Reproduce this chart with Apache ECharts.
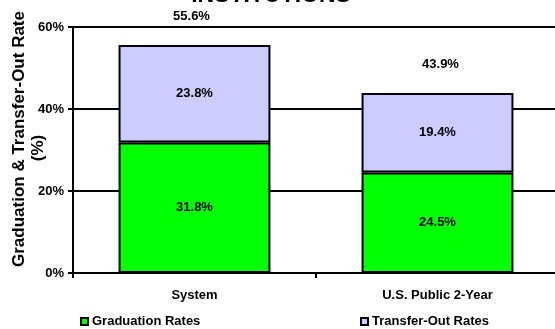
<!DOCTYPE html>
<html>
<head>
<meta charset="utf-8">
<script src="https://cdn.jsdelivr.net/npm/echarts@6/dist/echarts.min.js"></script>
<style>
  html, body { margin: 0; padding: 0; background: #fff; }
  #chart { width: 555px; height: 329px; }
</style>
</head>
<body>
<div id="chart"></div>
<script>
// data
const categories = ['System', 'U.S. Public 2-Year'];
const gradRates = [31.8, 24.5];
const transferRates = [23.8, 19.4];
const totals = [55.6, 43.9];
const yTicks = [0, 20, 40, 60];

const FONT = '"Liberation Sans", Arial, sans-serif';
const chart = echarts.init(document.getElementById('chart'));

// total labels float a bit above the bar tops, as in the original
const totalOffsets = [[-3, -29], [3, -29]];

const labelStyle = { color: '#000', fontWeight: 'bold', fontSize: 13, fontFamily: FONT };
const blackLine = { color: '#000', width: 2 };

const option = {
    animation: false,
    textStyle: { fontFamily: FONT },
    graphic: [
        {
            type: 'text',
            style: {
                text: 'INSTITUTIONS',
                x: 271, y: 7,
                align: 'center', verticalAlign: 'bottom',
                font: 'bold 23px ' + FONT,
                fill: '#000'
            }
        },
        // y axis title, two lines (Excel put them a little off-centre)
        {
            type: 'text',
            x: 19, y: 139, rotation: Math.PI / 2,
            style: {
                text: 'Graduation & Transfer-Out Rate',
                align: 'center', verticalAlign: 'middle',
                font: 'bold 17px ' + FONT, fill: '#000'
            }
        },
        {
            type: 'text',
            x: 38, y: 148, rotation: Math.PI / 2,
            style: {
                text: '(%)',
                align: 'center', verticalAlign: 'middle',
                font: 'bold 17px ' + FONT, fill: '#000'
            }
        }
    ],
    legend: [
        {
            left: 80, top: 315, padding: 0,
            data: ['Graduation Rates'],
            icon: 'rect', itemWidth: 7, itemHeight: 7, itemGap: 5,
            textStyle: Object.assign({}, labelStyle, { padding: [0, 0, 0, -1] })
        },
        {
            left: 360, top: 315, padding: 0,
            data: ['Transfer-Out Rates'],
            icon: 'rect', itemWidth: 7, itemHeight: 7, itemGap: 5,
            textStyle: Object.assign({}, labelStyle, { padding: [0, 0, 0, -1] })
        }
    ],
    grid: { left: 73, right: -4, top: 27, bottom: 56, outerBoundsMode: 'none', containLabel: false },
    xAxis: {
        type: 'category',
        data: categories,
        axisLine: { lineStyle: blackLine },
        axisTick: { show: true, length: 5, lineStyle: blackLine },
        axisLabel: Object.assign({}, labelStyle, { margin: 16 })
    },
    yAxis: {
        type: 'value',
        min: yTicks[0], max: yTicks[yTicks.length - 1], interval: 20,
        axisLine: { show: true, lineStyle: blackLine },
        axisTick: { show: true, length: 5, lineStyle: blackLine },
        axisLabel: Object.assign({}, labelStyle, { margin: 9, formatter: v => v + '%' }),
        splitLine: { show: true, lineStyle: blackLine }
    },
    series: [
        {
            name: 'Graduation Rates',
            type: 'bar',
            stack: 'total',
            barWidth: '62.5%',
            data: gradRates,
            itemStyle: { color: '#00FF00', borderColor: '#000', borderWidth: 2 },
            label: Object.assign({ show: true, position: 'inside',
                formatter: p => p.value.toFixed(1) + '%' }, labelStyle)
        },
        {
            name: 'Transfer-Out Rates',
            type: 'bar',
            stack: 'total',
            data: transferRates,
            itemStyle: { color: '#CCCCFF', borderColor: '#000', borderWidth: 2 },
            label: Object.assign({ show: true, position: 'inside',
                formatter: p => p.value.toFixed(1) + '%' }, labelStyle)
        },
        {
            name: 'Total',
            type: 'scatter',
            symbolSize: 0,
            silent: true,
            itemStyle: { opacity: 1, color: '#000' },
            data: totals.map((v, i) => ({
                value: v,
                label: { offset: totalOffsets[i] }
            })),
            label: Object.assign({ show: true, position: 'inside',
                formatter: p => p.value.toFixed(1) + '%' }, labelStyle),
            z: 10
        }
    ]
};

chart.setOption(option);
</script>
</body>
</html>
